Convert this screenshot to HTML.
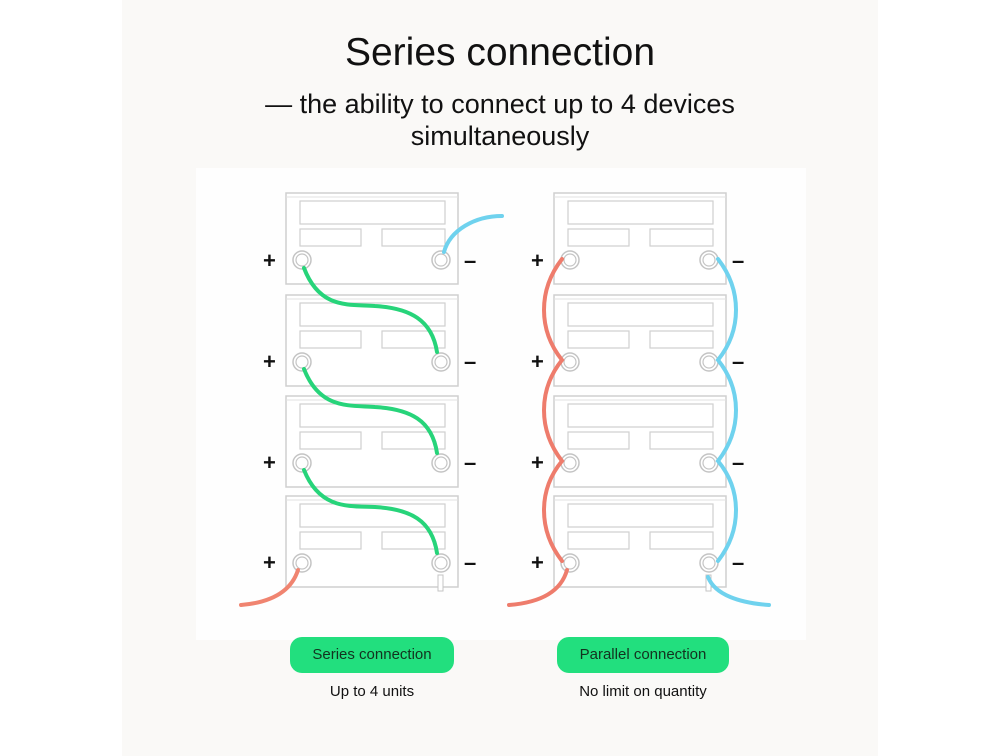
<!DOCTYPE html>
<html><head><style>
body{margin:0;width:1000px;height:756px;background:#fff;font-family:"Liberation Sans",sans-serif;position:relative;overflow:hidden}
.panel{position:absolute;left:122px;top:0;width:756px;height:756px;background:#faf9f7}
.t{position:absolute;left:0;width:1000px;text-align:center;color:#111}
.btn{position:absolute;height:36px;border-radius:12px;background:#22df7e;color:#13321f;font-size:15px;line-height:36px;text-align:center}
.sub{position:absolute;font-size:15px;text-align:center;color:#111}
</style></head><body>
<div class="panel"></div>
<div style="position:absolute;left:196px;top:168px;width:610px;height:472px;background:#fefefe"></div>
<div class="t" style="top:31px;font-size:39px">Series connection</div>
<div class="t" style="top:88px;font-size:27px;line-height:32px">— the ability to connect up to 4 devices<br>simultaneously</div>
<svg style="position:absolute;left:0;top:0" width="1000" height="756">
<defs>
<g id="bat">
<rect x="0" y="0" width="172" height="91" fill="#fff" stroke="#cfcfcf" stroke-width="1.5"/>
<line x1="0" y1="4" x2="172" y2="4" stroke="#e2e2e2"/>
<rect x="14" y="8" width="145" height="23" fill="none" stroke="#cfcfcf" stroke-width="1.2"/>
<rect x="14" y="36" width="61" height="17" fill="none" stroke="#cfcfcf" stroke-width="1.2"/>
<rect x="96" y="36" width="63" height="17" fill="none" stroke="#cfcfcf" stroke-width="1.2"/>
<circle cx="16" cy="67" r="9" fill="#fff" stroke="#c4c4c4" stroke-width="1.5"/>
<circle cx="16" cy="67" r="6" fill="none" stroke="#c4c4c4" stroke-width="1.2"/>
<circle cx="155" cy="67" r="9" fill="#fff" stroke="#c4c4c4" stroke-width="1.5"/>
<circle cx="155" cy="67" r="6" fill="none" stroke="#c4c4c4" stroke-width="1.2"/>
</g>
</defs>
<g font-family="Liberation Sans" font-weight="bold" font-size="22" fill="#111">
<use href="#bat" x="286" y="193"/><use href="#bat" x="286" y="295"/><use href="#bat" x="286" y="396"/><use href="#bat" x="286" y="496"/>
<use href="#bat" x="554" y="193"/><use href="#bat" x="554" y="295"/><use href="#bat" x="554" y="396"/><use href="#bat" x="554" y="496"/>
<text x="263" y="268">+</text><text x="263" y="369">+</text><text x="263" y="470">+</text><text x="263" y="570">+</text>
<text x="531" y="268">+</text><text x="531" y="369">+</text><text x="531" y="470">+</text><text x="531" y="570">+</text>
<text x="464" y="268">–</text><text x="464" y="369">–</text><text x="464" y="470">–</text><text x="464" y="570">–</text>
<text x="732" y="268">–</text><text x="732" y="369">–</text><text x="732" y="470">–</text><text x="732" y="570">–</text>
</g>
<rect x="438" y="575" width="5" height="16" fill="#fff" stroke="#c4c4c4"/>
<rect x="706" y="575" width="5" height="16" fill="#fff" stroke="#c4c4c4"/>
<g fill="none" stroke-width="4" stroke-linecap="round">
<path d="M304 268 C320 310 350 304 375 306 C410 308 432 320 437 352" stroke="#27d47a"/>
<path d="M304 369 C320 410 350 405 375 407 C410 409 432 420 437 453" stroke="#27d47a"/>
<path d="M304 470 C320 510 350 506 375 507 C410 509 432 520 437 553" stroke="#27d47a"/>
<path d="M444 252 C450 230 475 216 502 216" stroke="#6fd2ee"/>
<path d="M298 570 C290 595 265 603 241 605" stroke="#f08470"/>
<path d="M562 259 C538 290 538 330 562 360 C538 390 538 430 562 461 C538 490 538 530 562 561" stroke="#ee7c6c"/>
<path d="M567 570 C560 595 535 603 509 605" stroke="#ee7c6c"/>
<path d="M718 259 C742 290 742 330 718 360 C742 390 742 430 718 461 C742 490 742 530 718 561" stroke="#6fd2ee"/>
<path d="M708 577 C715 595 740 603 769 605" stroke="#6fd2ee"/>
</g>
</svg>
<div class="btn" style="left:290px;top:637px;width:164px">Series connection</div>
<div class="btn" style="left:557px;top:637px;width:172px">Parallel connection</div>
<div class="sub" style="left:272px;top:683px;width:200px">Up to 4 units</div>
<div class="sub" style="left:543px;top:683px;width:200px">No limit on quantity</div>
</body></html>
